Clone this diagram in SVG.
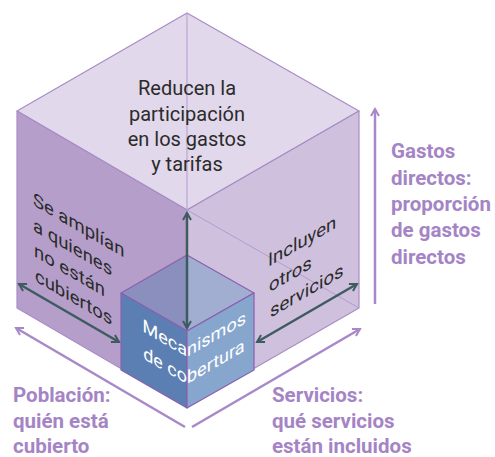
<svg xmlns="http://www.w3.org/2000/svg" width="495" height="457" viewBox="0 0 495 457">
  <defs>
    <style>
      .edge { stroke: #a88cc6; stroke-width: 1.2; stroke-linejoin: round; }
      .hidden { fill: none; stroke: #b49bcf; stroke-width: 1; }
      .small { stroke: #8a5fb0; stroke-width: 1.2; stroke-linejoin: round; }
      .dark { fill: none; stroke: #3e5b60; stroke-width: 2.5; }
      .purple { fill: none; stroke: #a888c8; stroke-width: 2.5; }
      .t { font-family: Roboto, "Liberation Sans", sans-serif; font-size: 20px; fill: #2b2b2b; }
      .s { font-family: Roboto, "Liberation Sans", sans-serif; font-size: 18.5px; fill: #2b2b2b; }
      .w { font-family: Roboto, "Liberation Sans", sans-serif; font-size: 18px; fill: #ffffff; }
      .lab { font-family: Roboto, "Liberation Sans", sans-serif; font-size: 20.5px; font-weight: bold; fill: #a584c5; }
    </style>
    <marker id="hd" viewBox="0 0 10 10" refX="8" refY="5" markerWidth="4" markerHeight="4" orient="auto-start-reverse" markerUnits="strokeWidth">
      <path d="M1,1 L8,5 L1,9" fill="none" stroke="#3e5b60" stroke-width="2"/>
    </marker>
    <marker id="hp" viewBox="0 0 10 10" refX="8" refY="5" markerWidth="4" markerHeight="4" orient="auto-start-reverse" markerUnits="strokeWidth">
      <path d="M1,1 L8,5 L1,9" fill="none" stroke="#a888c8" stroke-width="2"/>
    </marker>
  </defs>

  <g id="outer-cube">
    <polygon class="edge" points="17,111 187,13 359,111 187,210" fill="#e1d8eb"/>
    <polygon class="edge" points="17,111 187,210 187,407 17,308" fill="#b59fca"/>
    <polygon class="edge" points="187,210 359,111 359,308 187,407" fill="#cfc1de"/>
    <path class="hidden" d="M187,13 L187,210 M187,210 L17,308 M187,210 L359,308"/>
  </g>

  <g id="inner-cube">
    <polygon class="small" points="121,293 187,255 187,331" fill="#8b8fbd"/>
    <polygon class="small" points="187,255 254,293 187,331" fill="#a1aed1"/>
    <polygon class="small" points="121,293 187,331 187,408 121,370" fill="#5b7fb2"/>
    <polygon class="small" points="187,331 254,293 254,370 187,408" fill="#87a6cd"/>
  </g>

  <g id="connectors">
    <line class="dark" x1="187" y1="213" x2="187" y2="328" marker-start="url(#hd)" marker-end="url(#hd)"/>
    <line class="dark" x1="19" y1="284" x2="119" y2="342" marker-start="url(#hd)" marker-end="url(#hd)"/>
    <line class="dark" x1="257" y1="342" x2="357" y2="284" marker-start="url(#hd)" marker-end="url(#hd)"/>
    <line class="purple" x1="375" y1="304" x2="375" y2="109" marker-end="url(#hp)"/>
    <line class="purple" x1="185" y1="427" x2="16" y2="328" marker-end="url(#hp)"/>
    <line class="purple" x1="192" y1="427" x2="360" y2="329" marker-end="url(#hp)"/>
  </g>

  <g id="top-label">
    <text class="t" text-anchor="middle" x="187" y="94.5">Reducen la</text>
    <text class="t" text-anchor="middle" x="187" y="120.5">participación</text>
    <text class="t" text-anchor="middle" x="187" y="146">en los gastos</text>
    <text class="t" text-anchor="middle" x="187" y="171">y tarifas</text>
  </g>

  <g id="left-label">
    <text class="s" transform="translate(33,205) skewY(30)">Se amplían</text>
    <text class="s" transform="translate(33,230.5) skewY(30)">a quienes</text>
    <text class="s" transform="translate(34,256) skewY(30)">no están</text>
    <text class="s" transform="translate(35,281) skewY(30)">cubiertos</text>
  </g>

  <g id="right-label">
    <text class="s" transform="translate(268,267) skewY(-30)">Incluyen</text>
    <text class="s" transform="translate(269,292.5) skewY(-30)">otros</text>
    <text class="s" transform="translate(270,318) skewY(-30)">servicios</text>
  </g>

  <g id="center-label">
    <text class="w" text-anchor="end" transform="translate(187,357) skewY(30)">Meca</text>
    <text class="w" transform="translate(187,357) skewY(-30)">nismos</text>
    <text class="w" text-anchor="end" transform="translate(187,384) skewY(30)">de co</text>
    <text class="w" transform="translate(187,384) skewY(-30)">bertura</text>
  </g>

  <g id="gastos-label">
    <text class="lab" x="391" y="158">Gastos</text>
    <text class="lab" x="391" y="184.5">directos:</text>
    <text class="lab" x="391" y="211">proporción</text>
    <text class="lab" x="391" y="237">de gastos</text>
    <text class="lab" x="391" y="263.5">directos</text>
  </g>

  <g id="poblacion-label">
    <text class="lab" x="13" y="402">Población:</text>
    <text class="lab" x="13" y="428">quién está</text>
    <text class="lab" x="13" y="453">cubierto</text>
  </g>

  <g id="servicios-label">
    <text class="lab" x="272" y="402">Servicios:</text>
    <text class="lab" x="272" y="428">qué servicios</text>
    <text class="lab" x="272" y="453">están incluidos</text>
  </g>
</svg>
